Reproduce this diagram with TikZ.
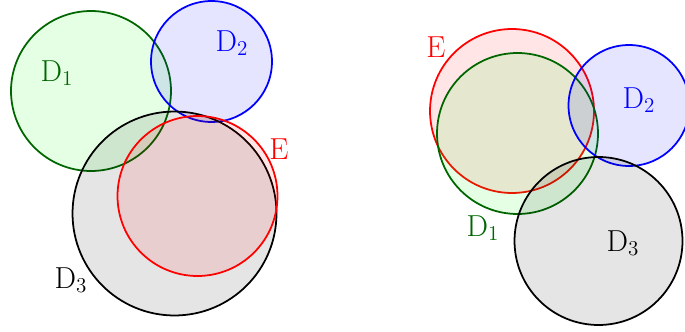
\documentclass[tikz,border=0pt]{standalone}
\usepackage{amsmath}
\begin{document}
\begin{tikzpicture}[x=0.02cm,y=-0.02cm]
  % pixel grid: x to the right, y downwards, 685 x 331
  \tikzset{
    disc/.style={circle,inner sep=0pt,line width=1pt,fill opacity=0.1,draw opacity=1},
    lab/.style={font=\LARGE,inner sep=0pt}
  }
  \useasboundingbox (0,0) rectangle (685,331);

  % left group
  \node[disc,draw=green!40!black,fill=green,minimum size=3.2cm]  (ldA) at (91,91) {};
  \node[disc,draw=blue,fill=blue,minimum size=2.42cm]            (ldB) at (211.5,61.5) {};
  \node[disc,draw=black,fill=black,minimum size=4.08cm]          (ldC) at (174.5,213.5) {};
  \node[disc,draw=red,fill=red,minimum size=3.2cm]               (lE)  at (197.5,196) {};
  \node[lab,text=green!40!black] (ldAlab) at (57,73)  {$\mathrm{D}_1$};
  \node[lab,text=blue]           (ldBlab) at (232,43) {$\mathrm{D}_2$};
  \node[lab,text=black]          (ldClab) at (71,280) {$\mathrm{D}_3$};
  \node[lab,text=red]            (lElab)  at (279,149) {$\mathrm{E}$};

  % right group
  \node[disc,draw=red,fill=red,minimum size=3.28cm]              (rE)  at (512,111) {};
  \node[disc,draw=green!40!black,fill=green,minimum size=3.22cm] (rdA) at (517.5,133.5) {};
  \node[disc,draw=blue,fill=blue,minimum size=2.42cm]            (rdB) at (629,105.5) {};
  \node[disc,draw=black,fill=black,minimum size=3.36cm]          (rdC) at (598.5,241) {};
  \node[lab,text=red]            (rElab)  at (436,47)  {$\mathrm{E}$};
  \node[lab,text=blue]           (rdBlab) at (639,100) {$\mathrm{D}_2$};
  \node[lab,text=green!40!black] (rdAlab) at (483,228) {$\mathrm{D}_1$};
  \node[lab,text=black]          (rdClab) at (623,243) {$\mathrm{D}_3$};
\end{tikzpicture}
\end{document}
